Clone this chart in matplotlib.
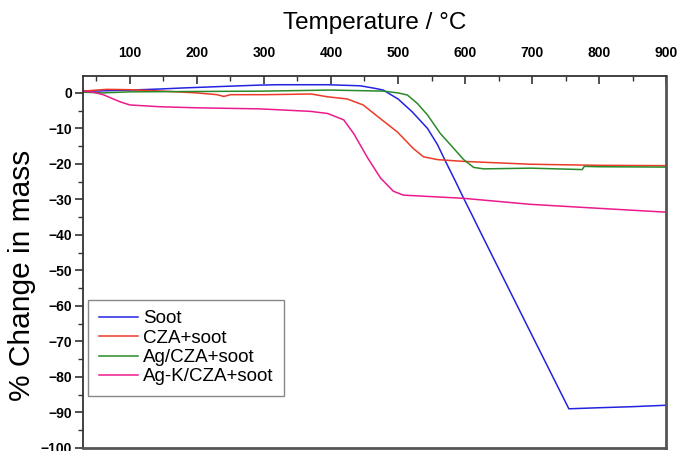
import matplotlib.pyplot as plt
from matplotlib.ticker import MultipleLocator

# dados (temperatura em C, variacao de massa em %)
temp_soot = [30, 45, 100, 145, 180, 250, 294, 320, 395, 444, 465, 478, 500, 521, 544, 559, 571, 586, 598, 611, 623, 660, 700, 755, 800, 850, 900]
soot = [0.6, 0.5, 0.8, 1.1, 1.4, 1.9, 2.2, 2.3, 2.3, 2.0, 1.3, 0.8, -1.7, -5.3, -10, -14.6, -19.3, -25, -29.7, -34.6, -39.2, -53.2, -68.3, -89, -88.7, -88.4, -88.0]

temp_cza = [30, 50, 66, 100, 150, 200, 230, 240, 250, 300, 340, 370, 395, 424, 448, 474, 499, 523, 538, 559, 598, 698, 798, 900]
cza = [0.5, 0.8, 1.0, 0.9, 0.5, 0.0, -0.5, -1.0, -0.5, -0.5, -0.4, -0.3, -1.1, -1.7, -3.4, -7.3, -11, -15.7, -18, -18.8, -19.3, -20.1, -20.4, -20.5]

temp_ag = [30, 60, 100, 200, 300, 399, 478, 500, 514, 529, 544, 563, 583, 598, 613, 628, 698, 775, 778, 798, 900]
ag = [0.2, 0.0, 0.3, 0.4, 0.5, 0.8, 0.5, 0.0, -0.6, -3.0, -6.2, -11.4, -15.6, -18.8, -21, -21.4, -21.2, -21.6, -20.7, -20.8, -20.9]

temp_agk = [30, 45, 60, 85, 100, 145, 200, 294, 369, 395, 419, 434, 455, 474, 493, 508, 598, 698, 798, 900]
agk = [0.5, 0.2, -0.5, -2.5, -3.4, -3.9, -4.2, -4.5, -5.2, -5.8, -7.6, -11.5, -18.4, -24, -27.7, -28.8, -29.7, -31.4, -32.5, -33.6]

nomes = ["Soot", "CZA+soot", "Ag/CZA+soot", "Ag-K/CZA+soot"]
cores = ["#2323e0", "#ec3a28", "#2a8a2a", "#ec1a8c"]

plt.rcParams['font.family'] = ['Liberation Sans', 'DejaVu Sans']

fig = plt.figure(figsize=(6.81, 4.51), dpi=100)
ax = fig.add_axes([0.122, 0.007, 0.856, 0.824])

ax.plot(temp_soot, soot, color=cores[0], lw=1.1, label=nomes[0])
ax.plot(temp_cza, cza, color=cores[1], lw=1.1, label=nomes[1])
ax.plot(temp_ag, ag, color=cores[2], lw=1.1, label=nomes[2])
ax.plot(temp_agk, agk, color=cores[3], lw=1.1, label=nomes[3])

ax.set_xlim(30, 900)
ax.set_ylim(-100, 4.7)

# eixo x em cima, eixo y a esquerda
ax.xaxis.tick_top()
ax.xaxis.set_label_position("top")
ax.xaxis.set_major_locator(MultipleLocator(100))
ax.xaxis.set_minor_locator(MultipleLocator(50))
ax.yaxis.set_major_locator(MultipleLocator(10))
ax.yaxis.set_minor_locator(MultipleLocator(5))

ax.tick_params(axis='x', which='major', direction='in', length=6, width=1.2, pad=12, labelsize=10, colors='#333333', labelcolor='black')
ax.tick_params(axis='x', which='minor', direction='in', length=3.5, width=1.0, colors='#333333')
ax.tick_params(axis='y', which='major', direction='out', length=6, width=1.2, pad=2, labelsize=10, colors='#333333', labelcolor='black')
ax.tick_params(axis='y', which='minor', direction='out', length=3.5, width=1.0, colors='#333333')
for lab in ax.get_xticklabels() + ax.get_yticklabels():
    lab.set_fontweight('bold')

for lado in ['top', 'left']:
    ax.spines[lado].set_color('#333333')
    ax.spines[lado].set_linewidth(1.3)
for lado in ['right', 'bottom']:
    ax.spines[lado].set_color('#555555')
    ax.spines[lado].set_linewidth(2.0)

ax.set_xlabel("Temperature / °C", fontsize=17.5, labelpad=12)
ax.set_ylabel("% Change in mass", fontsize=21.5)
ax.yaxis.set_label_coords(-0.08, 0.465)

leg = ax.legend(loc='upper left', bbox_to_anchor=(0.009, 0.398), borderaxespad=0,
                fontsize=13.5, handlelength=2.1, handletextpad=0.25, labelspacing=0.12,
                borderpad=0.55, fancybox=False, framealpha=1)
leg.get_frame().set_edgecolor('#888888')
leg.get_frame().set_linewidth(1.0)

fig.savefig("out.png", dpi=100)
